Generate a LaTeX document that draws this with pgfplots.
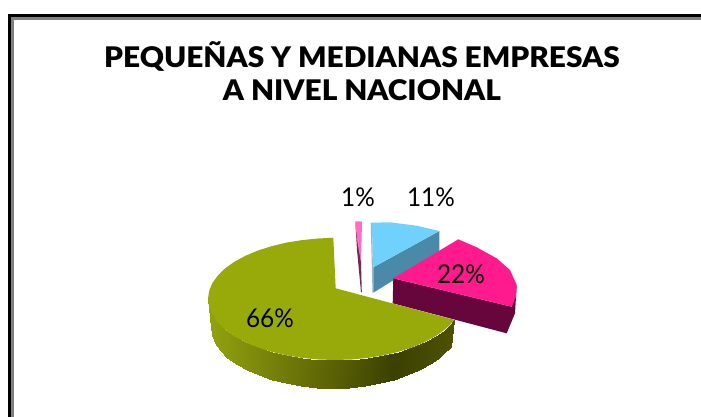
\documentclass[border=0pt]{standalone}
\usepackage{fontspec}
\setmainfont{Lato}
\newfontfamily\titlef[FakeStretch=1.05]{Lato Black}
\newfontfamily\labelf[FakeStretch=0.94]{Lato}
\usepackage{pgfplots}
\pgfplotsset{compat=1.18}
\definecolor{olivetop}{HTML}{97AA0A}
\definecolor{bluetop}{HTML}{70D2FC}
\definecolor{blueside}{HTML}{4A8AA8}
\definecolor{pinktop}{HTML}{FF1A8E}
\definecolor{pinkside}{HTML}{66063C}
\definecolor{lpink}{HTML}{FF6CC4}
\definecolor{dpink}{HTML}{6E2A55}
\begin{document}
\begin{tikzpicture}
\begin{axis}[
  width=701bp,height=417bp,scale only axis,
  xmin=0,xmax=701,ymin=0,ymax=417,y dir=reverse,
  axis lines=none,clip=true,
  colormap={olv}{rgb255(0pt)=(146,162,14); rgb255(90pt)=(106,116,8); rgb255(185pt)=(60,64,0); rgb255(245pt)=(76,82,0)},
  point meta min=0,point meta max=245,
]
% page extent
\addplot[draw=none,forget plot] coordinates {(0,0) (701,417)};
\path[use as bounding box] (axis cs:0,0) rectangle (axis cs:701,417);
% frame
\addplot[black,line width=3bp] coordinates {(9.5,417) (9.5,16) (701,16)};
\addplot[gray,line width=2.6bp] coordinates {(12.5,417) (12.5,18.4) (701,18.4)};
% small slice
\addplot[fill=dpink,draw=none] coordinates {(355.3,222) (361,262) (361.8,292) (361,292) (357,250)} --cycle;
\addplot[fill=lpink,draw=none] coordinates {(355.3,221.3) (362,221.3) (361,262) (357,240)} --cycle;
% blue slice
\addplot[fill=blueside!60!white,draw=none] coordinates {(370.7,223) (372,223) (373.5,292.7) (372.5,292.7)} --cycle;
\addplot[fill=blueside,draw=none] coordinates {(373.3,267.3) (439.3,231) (439.3,251.7) (373.3,292.7)} --cycle;
\addplot[fill=bluetop,draw=none] coordinates {(371.7,222.7) (390,222.3) (416.7,225.7) (439.3,231) (373.3,267.3)} --cycle;
% pink slice
\addplot[fill=pinkside,draw=none] coordinates {(393.3,278.3) (511.7,306.7) (516.7,285) (515,313.3) (506.7,333.3) (392.7,303.3)} --cycle;
\addplot[fill=pinktop,draw=none] coordinates {(458.3,239.3) (476.7,247.3) (496.7,258.3) (510,270) (516.7,285) (516,296.7) (511.7,306.7) (393.3,278.3)} --cycle;
% green side
\addplot[surf,shader=interp,mesh/ordering=y varies,mesh/rows=2,point meta=explicit] table[x=x,y=y,meta=c] {
x y c
208 299 0
211 327 0
209.1 307 1
212.1 335 1
212.3 314.8 5
215.2 342.8 5
217.7 322.3 10
220.3 350.3 10
225 329.5 17
227.3 357.5 17
234.2 336.1 26
236.2 364.1 26
245.2 342.1 37
246.7 370.1 37
257.7 347.4 50
258.7 375.4 50
271.5 351.8 64
272 379.8 64
286.4 355.4 78
286.3 383.4 78
302.1 357.9 94
301.4 385.9 94
318.4 359.5 110
317.1 387.5 110
335 360 126
333 388 126
351.6 359.5 142
348.9 387.5 142
367.9 357.9 158
364.6 385.9 158
383.6 355.4 174
379.7 383.4 174
398.5 351.8 188
394 379.8 188
412.3 347.4 202
407.3 375.4 202
424.8 342.1 214
419.3 370.1 214
435.8 336.1 225
429.8 364.1 225
445 329.5 234
438.7 357.5 234
450.1 324.8 240
443.6 352.8 240
454.3 319.9 245
451 346.7 245
};
% green top
\addplot[fill=olivetop,draw=none] coordinates {
(333.3,237.7) (318.4,238.5) (302.1,240.1) (286.4,242.6) (271.5,246.2) (257.7,250.6) (245.2,255.9) (234.2,261.9) (225,268.5) (217.7,275.7) (212.3,283.2) (209.1,291) (208,299) (209.1,307) (212.3,314.8) (217.7,322.3) (225,329.5) (234.2,336.1) (245.2,342.1) (257.7,347.4) (271.5,351.8) (286.4,355.4) (302.1,357.9) (318.4,359.5) (335,360) (351.6,359.5) (367.9,357.9) (383.6,355.4) (398.5,351.8) (412.3,347.4) (424.8,342.1) (435.8,336.1) (445,329.5) (450.1,324.8) (454.3,319.9) (335.7,288.3)} --cycle;
% texts
\node[font=\fontsize{28.5}{28.5}\selectfont\titlef,align=center,inner sep=0pt] at (axis cs:362,71) {PEQUEÑAS Y MEDIANAS EMPRESAS\\[5bp]A NIVEL NACIONAL};
\node[font=\fontsize{26}{26}\selectfont\labelf,inner sep=0pt] at (axis cs:358,197) {1\%};
\node[font=\fontsize{26}{26}\selectfont\labelf,inner sep=0pt] at (axis cs:431,197) {11\%};
\node[font=\fontsize{26}{26}\selectfont\labelf,inner sep=0pt] at (axis cs:461,274) {22\%};
\node[font=\fontsize{26}{26}\selectfont\labelf,inner sep=0pt] at (axis cs:270,318) {66\%};
\end{axis}
\end{tikzpicture}
\end{document}
